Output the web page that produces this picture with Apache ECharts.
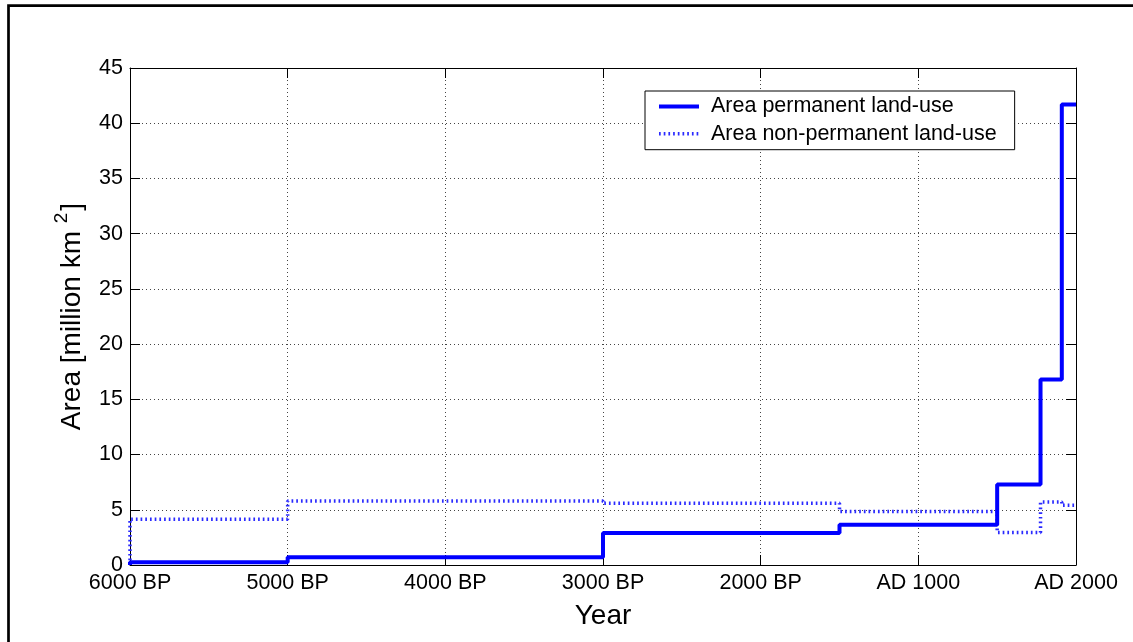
<!DOCTYPE html>
<html>
<head>
<meta charset="utf-8">
<title>Land-use area</title>
<script src="https://cdn.jsdelivr.net/npm/echarts@6/dist/echarts.min.js"></script>
<style>
  html, body { margin: 0; padding: 0; background: #fff; }
  #chart { width: 1133px; height: 642px; }
</style>
</head>
<body>
<div id="chart"></div>
<script>
// Years are calendar years (negative = BC); each value holds until the next year.
const years = [-4000, -4000, -3000, -1000, 500, 1500, 1775, 1910, 2000];
const permanentArea = [0, 0.25, 0.7, 2.9, 3.65, 7.3, 16.8, 41.7, 41.7];
const nonPermanentArea = [0, 4.15, 5.8, 5.6, 4.85, 2.95, 5.7, 5.4, 5.4];

const xTicks = [-4000, -3000, -2000, -1000, 0, 1000, 2000];
const seriesNames = ['Area permanent land-use', 'Area non-permanent land-use'];

function yearLabel(v) {
  return v <= 0 ? (2000 - v) + ' BP' : 'AD ' + v;
}

const pairs = (vals) => years.map((y, i) => [y, vals[i]]);

const font = 'Liberation Sans, Arial, sans-serif';
const fs = 21.5;
const chart = echarts.init(document.getElementById('chart'), null, { renderer: 'canvas' });

const baseX = {
  type: 'value', min: xTicks[0], max: xTicks[xTicks.length - 1], interval: 1000,
  axisLine: { show: true, onZero: false, lineStyle: { color: '#000', width: 1 } },
  axisTick: { show: true, inside: true, length: 10, lineStyle: { color: '#000' } }
};
const baseY = {
  type: 'value', min: 0, max: 45, interval: 5,
  axisLine: { show: true, onZero: false, lineStyle: { color: '#000', width: 1 } },
  axisTick: { show: true, inside: true, length: 10, lineStyle: { color: '#000' } }
};

chart.setOption({
  animation: false,
  backgroundColor: '#fff',
  textStyle: { fontFamily: font },
  graphic: [{
    type: 'rect', silent: true,
    shape: { x: 8.5, y: 5.7, width: 1200, height: 700 },
    style: { fill: 'none', stroke: '#000', lineWidth: 2.7 }
  }],
  grid: { left: 130, top: 68, right: 57, bottom: 77, containLabel: false },
  legend: {
    orient: 'vertical', left: 645, top: 91,
    data: seriesNames,
    itemWidth: 40, itemHeight: 14, itemGap: 5.2,
    padding: [4.5, 18, 5, 12],
    borderColor: '#000', borderWidth: 1, backgroundColor: '#fff',
    itemStyle: { opacity: 0 },
    lineStyle: { width: 'inherit' },
    textStyle: { fontFamily: font, fontSize: fs, color: '#000', lineHeight: 21.5, padding: [0, 0, 0, 7] }
  },
  xAxis: [
    Object.assign({}, baseX, {
      position: 'bottom',
      name: 'Year', nameLocation: 'middle', nameGap: 37,
      nameTextStyle: { fontFamily: font, fontSize: 28, color: '#000', verticalAlign: 'top' },
      axisLabel: { show: true, margin: 7, fontFamily: font, fontSize: fs, color: '#000',
                   showMinLabel: true, showMaxLabel: true, formatter: yearLabel },
      splitLine: { show: true, lineStyle: { color: '#444', type: [1, 3], width: 1 } }
    }),
    Object.assign({}, baseX, {
      position: 'top', axisLabel: { show: false }, splitLine: { show: false }
    })
  ],
  yAxis: [
    Object.assign({}, baseY, {
      position: 'left',
      name: '{t|Area [million km }{s|2}{t|]}', nameLocation: 'middle', nameGap: 44, nameRotate: 90,
      nameTextStyle: {
        color: '#000',
        rich: {
          t: { fontFamily: font, fontSize: 28, color: '#000', lineHeight: 34, verticalAlign: 'bottom' },
          s: { fontFamily: font, fontSize: 19, color: '#000', lineHeight: 34, verticalAlign: 'top', padding: [0, 2, 0, 0] }
        }
      },
      axisLabel: { show: true, margin: 7, fontFamily: font, fontSize: fs, color: '#000' },
      splitLine: { show: true, lineStyle: { color: '#444', type: [1, 3], width: 1 } }
    }),
    Object.assign({}, baseY, {
      position: 'right', axisLabel: { show: false }, splitLine: { show: false }
    })
  ],
  series: [
    {
      name: seriesNames[0], type: 'line', step: 'end', symbol: 'none',
      xAxisIndex: 0, yAxisIndex: 0,
      data: pairs(permanentArea),
      lineStyle: { color: '#0000ff', width: 4, type: 'solid' },
      itemStyle: { color: '#0000ff' },
      z: 3
    },
    {
      name: seriesNames[1], type: 'line', step: 'end', symbol: 'none',
      xAxisIndex: 0, yAxisIndex: 0,
      data: pairs(nonPermanentArea),
      lineStyle: { color: '#2a2aff', width: 3.5, type: [1.7, 3] },
      itemStyle: { color: '#2a2aff' },
      z: 2
    }
  ]
});
</script>
</body>
</html>
